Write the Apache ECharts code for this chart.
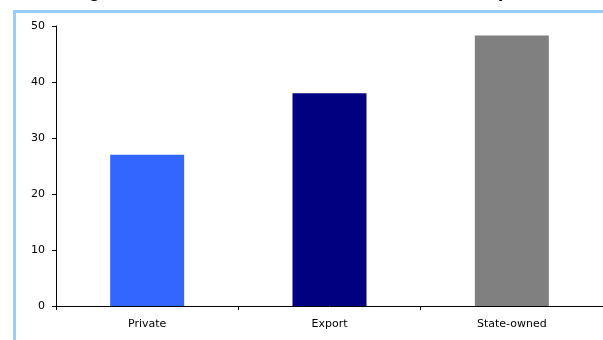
<!DOCTYPE html>
<html>
<head>
<meta charset="utf-8">
<script src="https://cdn.jsdelivr.net/npm/echarts@6/dist/echarts.min.js"></script>
<style>
  html, body { margin: 0; padding: 0; background: #fff; }
  #chart-container { width: 603px; height: 340px; }
</style>
</head>
<body>
<div id="chart-container"></div>
<script>
// 数据
var categories = ['Private', 'Export', 'State-owned'];
var values = [27, 38, 48.3];
var barColors = ['#3366FF', '#000080', '#808080'];
var yTicks = [0, 10, 20, 30, 40, 50];

var container = document.getElementById('chart-container');
var myChart = echarts.init(container);

myChart.setOption({
  animation: false,
  title: {
    // 标题只露出下半截
    text: 'Average return on assets of Chinese firms, 2005 in percent',
    left: 'center',
    top: -23,
    textStyle: {
      fontFamily: 'Liberation Sans',
      fontSize: 19,
      fontWeight: 'bold',
      color: '#000'
    }
  },
  graphic: [
    {
      type: 'rect',
      shape: { x: 14.5, y: 11.5, width: 700, height: 400 },
      style: { fill: null, stroke: '#99CCFF', lineWidth: 3 },
      silent: true
    }
  ],
  grid: {
    left: 56,
    right: -2,
    top: 26,
    bottom: 34
  },
  xAxis: {
    type: 'category',
    data: categories,
    axisLine: { lineStyle: { color: '#000', width: 1 } },
    axisTick: { show: true, length: 4, lineStyle: { color: '#000' } },
    axisLabel: {
      color: '#000',
      fontFamily: 'DejaVu Sans',
      fontSize: 11,
      margin: 13
    }
  },
  yAxis: {
    type: 'value',
    min: yTicks[0],
    max: yTicks[yTicks.length - 1],
    interval: 10,
    axisLine: { show: true, lineStyle: { color: '#000', width: 1 } },
    axisTick: { show: true, length: 4, lineStyle: { color: '#000' } },
    splitLine: { show: false },
    axisLabel: {
      color: '#000',
      fontFamily: 'DejaVu Sans',
      fontSize: 11,
      margin: 11
    }
  },
  series: [
    {
      type: 'bar',
      barWidth: 74,
      data: values.map(function (v, i) {
        return { value: v, itemStyle: { color: barColors[i] } };
      })
    }
  ]
});
</script>
</body>
</html>
